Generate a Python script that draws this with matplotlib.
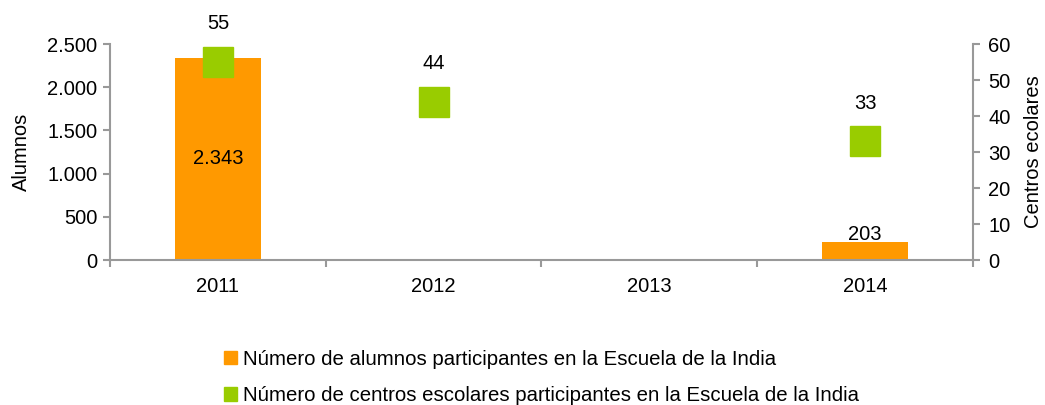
import matplotlib.pyplot as plt
from matplotlib.patches import Patch
import numpy as np

plt.rcParams['font.family'] = ['Liberation Sans', 'DejaVu Sans']

years = ['2011', '2012', '2013', '2014']
alumnos = [2343, np.nan, np.nan, 203]
centros = [55, 44, np.nan, 33]

alumnos_lbl = ['2.343', '', '', '203']
left_ticks = [0, 500, 1000, 1500, 2000, 2500]
left_tick_lbl = ['0', '500', '1.000', '1.500', '2.000', '2.500']
right_ticks = [0, 10, 20, 30, 40, 50, 60]
legend_lbl = ['Número de alumnos participantes en la Escuela de la India',
              'Número de centros escolares participantes en la Escuela de la India']

orange = '#FF9900'
green = '#99CC00'
grey = '#999999'
fs = 14.5

fig = plt.figure(figsize=(10.45, 4.05), dpi=100)
ax = fig.add_axes([0.1053, 0.358, 0.8257, 0.533])
ax2 = ax.twinx()

x = np.arange(len(years))
ax.bar(x, alumnos, width=0.4, color=orange, zorder=2)
ax2.plot(x, centros, linestyle='none', marker='s', markersize=21,
         color=green, zorder=3)

# data labels
for xi, v, lbl in zip(x, alumnos, alumnos_lbl):
    if np.isnan(v):
        continue
    if v > 1000:
        ax.text(xi, v / 2, lbl, ha='center', va='center', fontsize=fs)
    else:
        ax.annotate(lbl, (xi, v), xytext=(0, 5.5), textcoords='offset points',
                    ha='center', va='center', fontsize=fs)
for xi, v in zip(x, centros):
    if np.isnan(v):
        continue
    ax2.annotate(str(v), (xi, v), xytext=(0, 27.5), textcoords='offset points',
                 ha='center', va='center', fontsize=fs, annotation_clip=False)

ax.set_xlim(-0.5, len(years) - 0.5)
ax.set_ylim(0, 2500)
ax2.set_ylim(0, 60)
ax.set_yticks(left_ticks)
ax.set_yticklabels(left_tick_lbl)
ax2.set_yticks(right_ticks)

ax.set_xticks(x)
ax.set_xticklabels(years)
ax.set_xticks(np.arange(len(years) + 1) - 0.5, minor=True)
ax.tick_params(axis='x', which='major', length=0, pad=12, labelsize=fs)
ax.tick_params(axis='x', which='minor', length=5, color=grey, width=1.5)
ax.tick_params(axis='y', length=5, color=grey, width=1.5, labelsize=fs, pad=4)
ax2.tick_params(axis='y', length=5, color=grey, width=1.5, labelsize=fs, pad=6)

for a in (ax, ax2):
    a.spines['top'].set_visible(False)
    for s in ('left', 'right', 'bottom'):
        a.spines[s].set_color(grey)
        a.spines[s].set_linewidth(1.5)
ax.spines['right'].set_visible(False)
ax2.spines['left'].set_visible(False)
ax2.spines['bottom'].set_visible(False)

ax.set_ylabel('Alumnos', fontsize=fs, labelpad=12)
ax2.set_ylabel('Centros ecolares', fontsize=fs, labelpad=10)

handles = [Patch(color=orange), Patch(color=green)]
fig.legend(handles, legend_lbl, loc='upper left', bbox_to_anchor=(0.2144, 0.137),
           frameon=False, fontsize=14.7, handlelength=0.64, handleheight=0.64,
           handletextpad=0.3, labelspacing=0.86, borderaxespad=0, borderpad=0)

fig.savefig('out.png', dpi=100)
